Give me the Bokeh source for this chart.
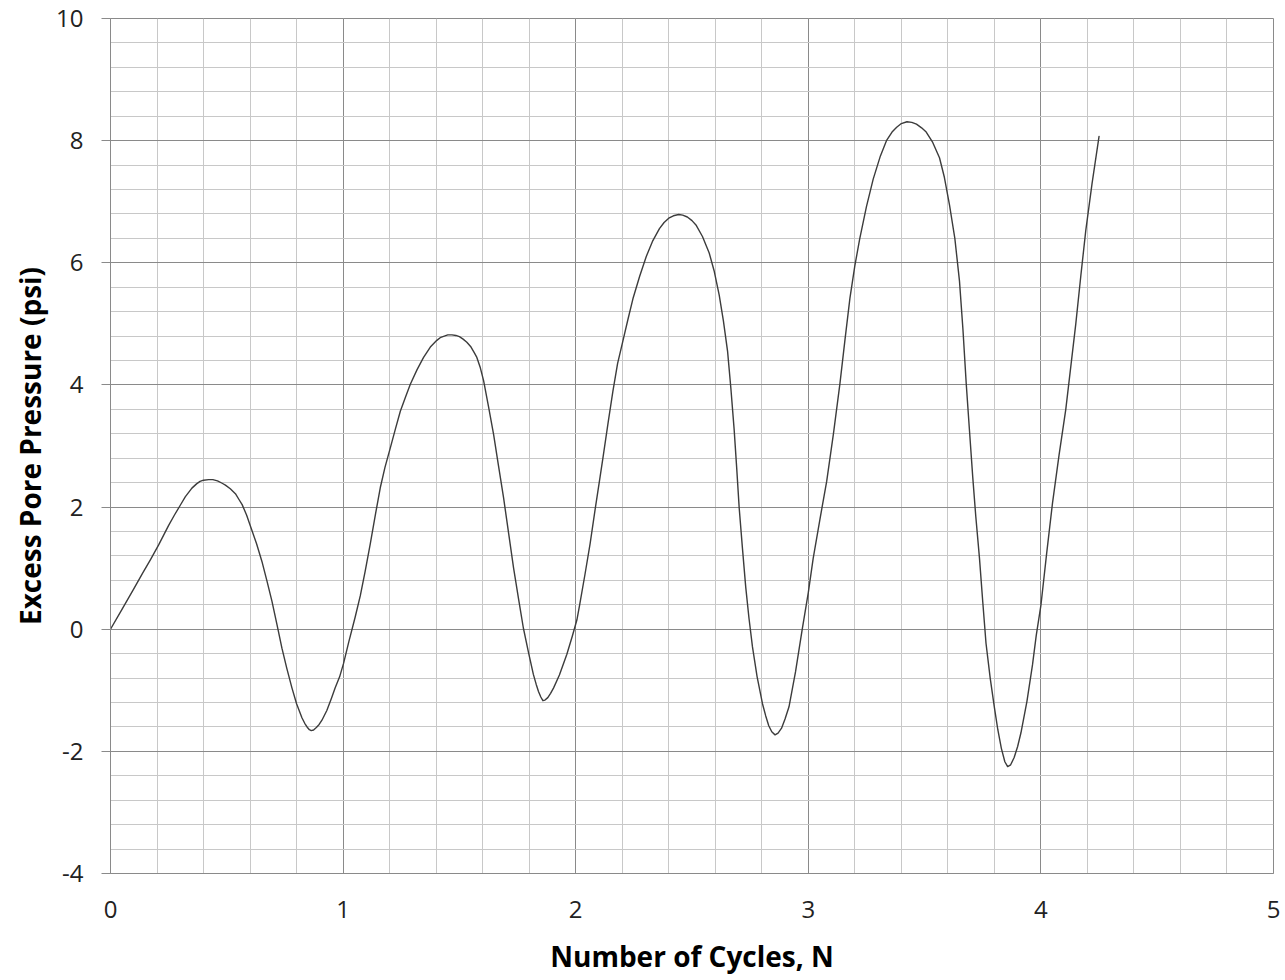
from bokeh.plotting import figure
from bokeh.models import Range1d, SingleIntervalTicker, CustomJSTickFormatter
from bokeh.embed import file_html
from bokeh.resources import INLINE

# Number of cycles (N)
cycles = [0, 0.05, 0.10, 0.14, 0.172, 0.207, 0.25, 0.275, 0.30, 0.322, 0.35, 0.37,
          0.385, 0.40, 0.422, 0.44, 0.46, 0.48, 0.494, 0.515, 0.537, 0.553, 0.566,
          0.585, 0.604, 0.628, 0.651, 0.672, 0.694, 0.716, 0.737, 0.758, 0.78, 0.80,
          0.823, 0.835, 0.845, 0.855, 0.863, 0.873, 0.885, 0.897, 0.909, 0.93, 0.95,
          0.966, 0.985, 1.002, 1.025, 1.052, 1.074, 1.095, 1.117, 1.14, 1.16, 1.18,
          1.203, 1.225, 1.246, 1.268, 1.289, 1.318, 1.346, 1.375, 1.403, 1.42, 1.435,
          1.45, 1.468, 1.485, 1.50, 1.516, 1.532, 1.55, 1.565, 1.575, 1.59, 1.604,
          1.625, 1.647, 1.668, 1.69, 1.712, 1.733, 1.755, 1.775, 1.797, 1.818, 1.83,
          1.84, 1.85, 1.859, 1.868, 1.88, 1.892, 1.905, 1.93, 1.962, 1.985, 2.005,
          2.017, 2.04, 2.062, 2.085, 2.105, 2.117, 2.14, 2.16, 2.18, 2.203, 2.225,
          2.246, 2.275, 2.303, 2.33, 2.36, 2.38, 2.40, 2.42, 2.443, 2.46, 2.48, 2.50,
          2.517, 2.545, 2.574, 2.595, 2.617, 2.635, 2.653, 2.667, 2.681, 2.692, 2.703,
          2.717, 2.731, 2.745, 2.76, 2.78, 2.803, 2.817, 2.83, 2.843, 2.857, 2.87,
          2.885, 2.90, 2.917, 2.945, 2.974, 3.0, 3.021, 3.05, 3.079, 3.108, 3.136,
          3.158, 3.179, 3.2, 3.221, 3.25, 3.279, 3.31, 3.336, 3.36, 3.38, 3.40, 3.424,
          3.445, 3.465, 3.487, 3.507, 3.535, 3.564, 3.585, 3.607, 3.63, 3.65, 3.665,
          3.679, 3.693, 3.707, 3.72, 3.736, 3.75, 3.764, 3.782, 3.80, 3.815, 3.83,
          3.845, 3.857, 3.87, 3.885, 3.90, 3.914, 3.94, 3.964, 3.98, 4.0, 4.025, 4.05,
          4.078, 4.107, 4.13, 4.15, 4.172, 4.193, 4.22, 4.25]

# Excess pore pressure (psi)
pressure = [0, 0.33, 0.66, 0.93, 1.14, 1.38, 1.70, 1.87, 2.03, 2.17, 2.31, 2.38,
            2.42, 2.44, 2.45, 2.45, 2.43, 2.39, 2.36, 2.30, 2.22, 2.12, 2.04,
            1.87, 1.66, 1.40, 1.11, 0.80, 0.46, 0.07, -0.31, -0.64, -0.96, -1.22,
            -1.45, -1.54, -1.60, -1.645, -1.66, -1.65, -1.61, -1.56, -1.49, -1.33, -1.13,
            -0.96, -0.78, -0.56, -0.20, 0.20, 0.55, 0.95, 1.40, 1.90, 2.32, 2.65,
            2.97, 3.28, 3.57, 3.80, 4.01, 4.25, 4.45, 4.62, 4.73, 4.78, 4.80,
            4.82, 4.82, 4.81, 4.79, 4.75, 4.70, 4.62, 4.52, 4.45, 4.28, 4.07,
            3.65, 3.19, 2.68, 2.15, 1.56, 1.00, 0.48, 0.02, -0.38, -0.74, -0.90,
            -1.02, -1.11, -1.17, -1.16, -1.12, -1.05, -0.96, -0.75, -0.41, -0.12, 0.15,
            0.40, 0.90, 1.40, 2.00, 2.50, 2.80, 3.40, 3.90, 4.35, 4.72, 5.08,
            5.41, 5.78, 6.10, 6.35, 6.56, 6.66, 6.73, 6.77, 6.79, 6.78, 6.75, 6.69,
            6.62, 6.43, 6.16, 5.87, 5.47, 5.05, 4.55, 3.95, 3.28, 2.65, 1.98,
            1.32, 0.69, 0.18, -0.29, -0.78, -1.22, -1.42, -1.58, -1.68, -1.73, -1.70,
            -1.62, -1.47, -1.27, -0.70, 0.0, 0.60, 1.16, 1.80, 2.42, 3.20, 4.02,
            4.75, 5.42, 5.95, 6.39, 6.92, 7.37, 7.75, 8.00, 8.14, 8.22, 8.28, 8.31,
            8.30, 8.27, 8.21, 8.14, 7.97, 7.72, 7.40, 6.95, 6.40, 5.70, 4.90,
            4.02, 3.25, 2.49, 1.85, 1.16, 0.45, -0.23, -0.80, -1.28, -1.65, -1.95,
            -2.17, -2.25, -2.22, -2.10, -1.92, -1.70, -1.18, -0.58, -0.10, 0.39, 1.25, 2.07,
            2.85, 3.60, 4.35, 5.00, 5.80, 6.53, 7.30, 8.07]

x_title = "Number of Cycles, N"
y_title = "Excess Pore Pressure (psi)"

MAJOR = "#8a8a8a"
MINOR = "#c8c8c8"
FONT = "Open Sans"

p = figure(width=1283, height=978, output_backend="svg", toolbar_location=None,
           x_range=Range1d(0, 5), y_range=Range1d(-4, 10),
           min_border_left=110, min_border_right=10, min_border_top=18,
           min_border_bottom=105)

p.line(cycles, pressure, line_color="#3c3c3c", line_width=1.4,
       line_join="round", line_cap="round")

p.xaxis.ticker = SingleIntervalTicker(interval=1, num_minor_ticks=5)
p.yaxis.ticker = SingleIntervalTicker(interval=2, num_minor_ticks=5)
p.xgrid.ticker = p.xaxis.ticker
p.ygrid.ticker = p.yaxis.ticker

for g in (p.xgrid, p.ygrid):
    g.grid_line_color = MAJOR
    g.grid_line_width = 1
    g.minor_grid_line_color = MINOR
    g.minor_grid_line_width = 1

p.outline_line_color = MAJOR

fmt = CustomJSTickFormatter(code="return String(tick);")

for ax in (p.xaxis, p.yaxis):
    ax.formatter = fmt
    ax.axis_line_color = MAJOR
    ax.minor_tick_line_color = None
    ax.major_label_text_font = FONT
    ax.major_label_text_font_size = "24px"
    ax.major_label_text_color = "#222222"
    ax.axis_label_text_font = FONT
    ax.axis_label_text_font_style = "bold"
    ax.axis_label_text_font_size = "28px"
    ax.axis_label_text_color = "#000000"

p.xaxis.major_tick_line_color = None
p.xaxis.major_tick_out = 0
p.xaxis.major_tick_in = 0
p.xaxis.major_label_standoff = 23
p.xaxis.axis_label = x_title
p.xaxis.axis_label_standoff = 16

p.yaxis.major_tick_line_color = MAJOR
p.yaxis.major_tick_out = 9
p.yaxis.major_tick_in = 0
p.yaxis.major_label_standoff = 18
p.yaxis.axis_label = y_title
p.yaxis.axis_label_standoff = 4

open("out.html", "w").write(file_html(p, INLINE))
